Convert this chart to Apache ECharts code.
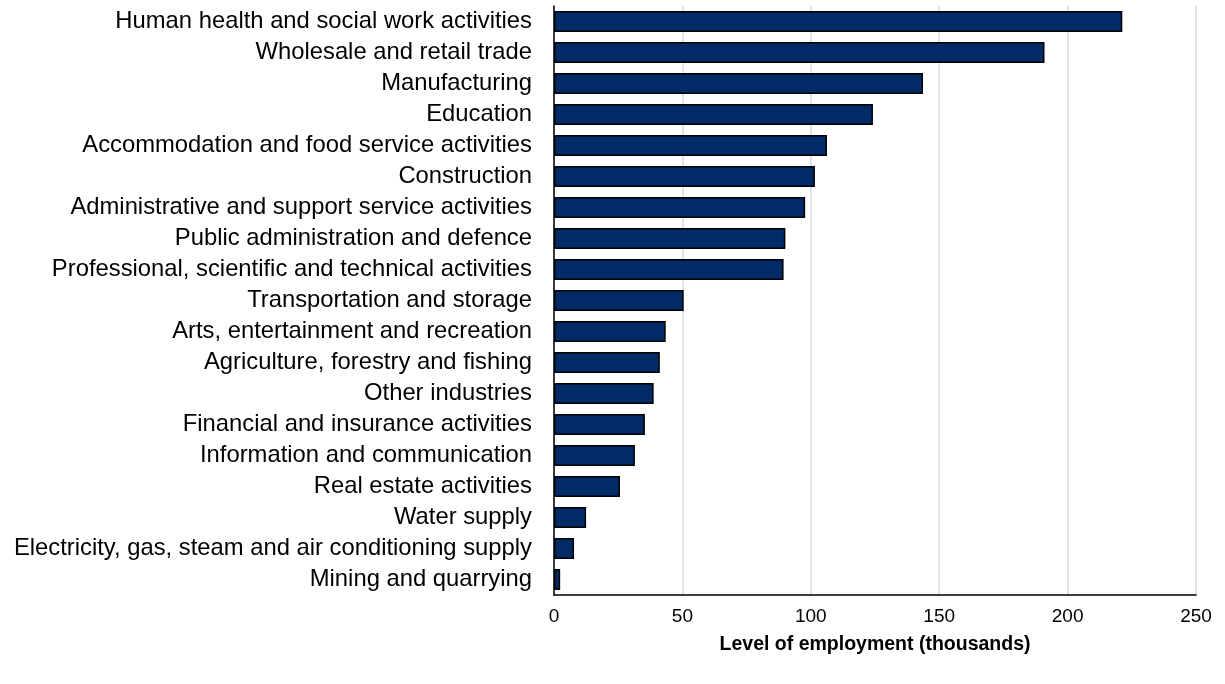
<!DOCTYPE html>
<html>
<head>
<meta charset="utf-8">
<script src="https://cdn.jsdelivr.net/npm/echarts@6/dist/echarts.min.js"></script>
<style>
    html, body { margin: 0; padding: 0; background: #fff; }
    #chart { width: 1225px; height: 684px; }
</style>
</head>
<body>
<div id="chart"></div>
<script>
// industries, top to bottom as shown
const industries = [
    'Human health and social work activities',
    'Wholesale and retail trade',
    'Manufacturing',
    'Education',
    'Accommodation and food service activities',
    'Construction',
    'Administrative and support service activities',
    'Public administration and defence',
    'Professional, scientific and technical activities',
    'Transportation and storage',
    'Arts, entertainment and recreation',
    'Agriculture, forestry and fishing',
    'Other industries',
    'Financial and insurance activities',
    'Information and communication',
    'Real estate activities',
    'Water supply',
    'Electricity, gas, steam and air conditioning supply',
    'Mining and quarrying'
];

// employment, thousands
const employment = [
    221.3, 191.0, 143.7, 124.2, 106.3, 101.6, 97.8, 90.1, 89.4, 50.5,
    43.5, 41.2, 38.8, 35.4, 31.5, 25.7, 12.5, 7.8, 2.4
];

const xTicks = [0, 50, 100, 150, 200, 250];

const chart = echarts.init(document.getElementById('chart'));

const option = {
    animation: false,
    textStyle: { fontFamily: 'Liberation Sans, Arial, sans-serif' },
    grid: {
        left: 554,
        right: 29,
        top: 6,
        bottom: 89
    },
    xAxis: {
        type: 'value',
        min: xTicks[0],
        max: xTicks[xTicks.length - 1],
        interval: 50,
        name: 'Level of employment (thousands)',
        nameLocation: 'middle',
        nameGap: 40,
        nameTextStyle: {
            color: '#000',
            fontSize: 19.5,
            fontWeight: 'bold'
        },
        axisLine: { show: true, lineStyle: { color: '#000', width: 1.5 } },
        axisTick: { show: false },
        axisLabel: { color: '#000', fontSize: 19, margin: 12 },
        splitLine: { show: true, lineStyle: { color: '#d9d9d9', width: 1.5 } }
    },
    yAxis: {
        type: 'category',
        inverse: true,
        data: industries,
        axisLine: { show: true, lineStyle: { color: '#000', width: 1.5 } },
        axisTick: { show: false },
        axisLabel: { color: '#000', fontSize: 23.8, margin: 22, interval: 0 },
        splitLine: { show: false }
    },
    series: [
        {
            type: 'bar',
            data: employment,
            barCategoryGap: '32%',
            itemStyle: {
                color: '#002b66',
                borderColor: '#000',
                borderWidth: 1.5
            }
        }
    ]
};

chart.setOption(option);
</script>
</body>
</html>
